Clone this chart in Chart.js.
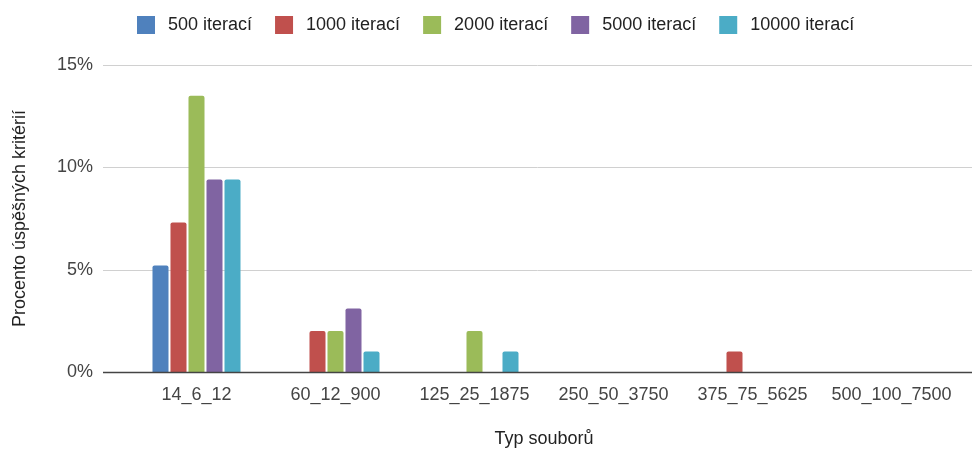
<!DOCTYPE html>
<html>
<head>
<meta charset="utf-8">
<script src="https://cdn.jsdelivr.net/npm/chart.js@4"></script>
<style>
  html, body { margin: 0; padding: 0; background: #ffffff; }
  canvas { display: block; }
</style>
</head>
<body>
<canvas id="c" width="974" height="450"></canvas>
<script>
// File-size categories on the x axis
const categories = ['14_6_12', '60_12_900', '125_25_1875', '250_50_3750', '375_75_5625', '500_100_7500'];

// Series names (number of iterations)
const seriesNames = ['500 iterací', '1000 iterací', '2000 iterací', '5000 iterací', '10000 iterací'];

// Percentage of successful criteria per category
const iter500   = [5.2, 0,   0,   0, 0,   0];
const iter1000  = [7.3, 2.0, 0,   0, 1.0, 0];
const iter2000  = [13.5, 2.0, 2.0, 0, 0,   0];
const iter5000  = [9.4, 3.1, 0,   0, 0,   0];
const iter10000 = [9.4, 1.0, 1.0, 0, 0,   0];

// Value axis ticks (percent)
const yTicks = [0, 5, 10, 15];

const seriesValues = [iter500, iter1000, iter2000, iter5000, iter10000];
const seriesColors = ['#4f81bd', '#c0504d', '#9bbb59', '#8064a2', '#4bacc6'];

const FONT = '"Liberation Sans", Arial, sans-serif';

// Horizontal gridlines and the zero baseline run a little wider than the bar area
const GRID_LEFT = 103;
const GRID_RIGHT = 972;

// Legend swatch: a 26px box with a white 8px outline leaves an 18px coloured square
const SWATCH = 26;
const SWATCH_TRIM = 8;

const wideGrid = {
  id: 'wideGrid',
  afterLayout(chart) {
    // place the legend row
    const lg = chart.legend;
    const pad = chart.options.plugins.legend.labels.padding;
    lg.left = 137 - SWATCH_TRIM / 2 - pad;
    lg.right = 974;
    lg.top = 16 - SWATCH_TRIM / 2 - pad;
  },
  beforeDatasetsDraw(chart) {
    const { ctx } = chart;
    const y = chart.scales.y;
    ctx.save();
    ctx.lineWidth = 1;
    ctx.strokeStyle = '#d0d0d0';
    yTicks.forEach(v => {
      if (v === 0) return;
      const py = Math.round(y.getPixelForValue(v)) + 0.5;
      ctx.beginPath();
      ctx.moveTo(GRID_LEFT, py);
      ctx.lineTo(GRID_RIGHT, py);
      ctx.stroke();
    });
    ctx.restore();
  },
  afterDatasetsDraw(chart) {
    const { ctx } = chart;
    const y = chart.scales.y;
    const py = Math.round(y.getPixelForValue(0)) + 0.5;
    ctx.save();
    ctx.lineWidth = 1.3;
    ctx.strokeStyle = '#444444';
    ctx.beginPath();
    ctx.moveTo(GRID_LEFT, py);
    ctx.lineTo(GRID_RIGHT, py);
    ctx.stroke();
    ctx.restore();
  }
};

new Chart(document.getElementById('c'), {
  type: 'bar',
  data: {
    labels: categories,
    datasets: seriesNames.map((name, i) => ({
      label: name,
      data: seriesValues[i],
      backgroundColor: seriesColors[i],
      borderWidth: 0,
      borderRadius: { topLeft: 2, topRight: 2, bottomLeft: 0, bottomRight: 0 },
      borderSkipped: 'start',
      categoryPercentage: 0.6475,
      barPercentage: 0.89
    }))
  },
  options: {
    responsive: false,
    animation: false,
    layout: { padding: { left: 0, right: 13, top: 10, bottom: 0 } },
    plugins: {
      legend: {
        position: 'top',
        align: 'start',
        labels: {
          boxWidth: SWATCH,
          boxHeight: SWATCH,
          padding: 19,
          color: '#222222',
          font: { family: FONT, size: 18 },
          generateLabels(chart) {
            return chart.data.datasets.map((ds, i) => ({
              text: ds.label,
              fillStyle: ds.backgroundColor,
              strokeStyle: '#ffffff',
              lineWidth: SWATCH_TRIM,
              fontColor: '#222222',
              hidden: !chart.isDatasetVisible(i),
              datasetIndex: i
            }));
          }
        }
      },
      tooltip: { enabled: false }
    },
    scales: {
      x: {
        grid: { display: false, drawTicks: false },
        border: { display: false },
        ticks: {
          color: '#444444',
          font: { family: FONT, size: 18 },
          padding: 12,
          maxRotation: 0,
          autoSkip: false
        },
        title: {
          display: true,
          text: 'Typ souborů',
          color: '#222222',
          font: { family: FONT, size: 18 },
          padding: { top: 0, bottom: 0 }
        },
        afterFit(scale) { scale.height = 78; }
      },
      y: {
        min: 0,
        max: 15,
        grid: { display: false, drawTicks: false },
        border: { display: false },
        ticks: {
          stepSize: 5,
          color: '#444444',
          font: { family: FONT, size: 18 },
          padding: 34,
          callback: v => v + '%'
        },
        title: {
          display: true,
          text: 'Procento úspěšných kritérií',
          color: '#222222',
          font: { family: FONT, size: 18 },
          padding: { top: 9, bottom: 0 }
        },
        afterFit(scale) { scale.width = 127; }
      }
    }
  },
  plugins: [wideGrid]
});
</script>
</body>
</html>
